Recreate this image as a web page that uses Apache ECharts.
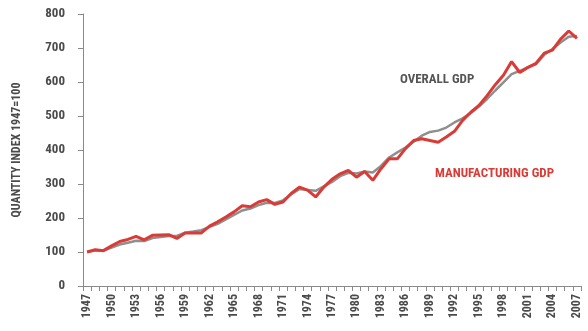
<!DOCTYPE html>
<html>
<head>
<meta charset="utf-8">
<script src="https://cdn.jsdelivr.net/npm/echarts@6/dist/echarts.min.js"></script>
<style>html,body{margin:0;padding:0;background:#fff;}#chart{width:588px;height:331px;}</style>
</head>
<body>
<div id="chart"></div>
<script>
const years = [];
for (let y = 1947; y <= 2007; y++) years.push(String(y));

const overallGdp = [100,104,104,113,122,127,133,132,141,144,147,147,157,160,164,174,183,196,209,222,228,238,245,244,252,270,285,282,280,293,306,323,333,331,337,334,353,378,393,407,424,442,453,457,466,481,493,509,528,550,575,599,623,633,643,653,680,697,716,733,735];
const manufacturingGdp = [100,107,104,118,131,137,146,136,149,150,151,140,156,156,156,176,189,203,218,236,233,247,254,240,247,272,291,282,262,291,314,330,340,320,337,311,345,374,374,404,428,433,428,423,438,455,487,511,531,560,592,620,660,628,643,655,685,694,726,750,728];

const yTitle = 'QUANTITY INDEX 1947=100';
const overallLabel = 'OVERALL GDP';
const manufLabel = 'MANUFACTURING GDP';

const FONT = '"Liberation Sans Narrow", "Roboto Condensed", "Arial Narrow", sans-serif';
const chart = echarts.init(document.getElementById('chart'), null, {renderer: 'canvas'});
chart.setOption({
  animation: false,
  backgroundColor: '#fff',
  grid: {left: 83, right: 7, top: 14, bottom: 45, containLabel: false},
  xAxis: {
    type: 'category',
    data: years,
    boundaryGap: true,
    axisLine: {lineStyle: {color: '#8a8a8a', width: 1}},
    axisTick: {show: true, interval: 0, length: 5, lineStyle: {color: '#8a8a8a'}},
    axisLabel: {interval: 2, rotate: 90, margin: 8, color: '#4a4a4a', fontFamily: FONT, fontWeight: 'bold', fontSize: 12}
  },
  yAxis: {
    type: 'value', min: 0, max: 800, interval: 100,
    name: yTitle, nameLocation: 'middle', nameGap: 60, nameRotate: 90,
    nameTextStyle: {color: '#4a4a4a', fontFamily: FONT, fontWeight: 'bold', fontSize: 12},
    axisLine: {show: true, lineStyle: {color: '#8a8a8a', width: 1}},
    axisTick: {show: true, length: 5, lineStyle: {color: '#8a8a8a'}},
    splitLine: {show: false},
    axisLabel: {margin: 18, color: '#4a4a4a', fontFamily: FONT, fontWeight: 'bold', fontSize: 13}
  },
  series: [
    {name: overallLabel, type: 'line', data: overallGdp, symbol: 'none', z: 2,
     lineStyle: {color: '#8f8f8f', width: 2.5}},
    {name: manufLabel, type: 'line', data: manufacturingGdp, symbol: 'none', z: 3,
     lineStyle: {color: '#d93b36', width: 3}}
  ],
  graphic: [
    {type: 'text', left: 400, top: 73, style: {text: overallLabel, fill: '#555555', font: 'bold 13px ' + FONT}},
    {type: 'text', left: 435, top: 167, style: {text: manufLabel, fill: '#d93b36', font: 'bold 13px ' + FONT}}
  ]
});
</script>
</body>
</html>
